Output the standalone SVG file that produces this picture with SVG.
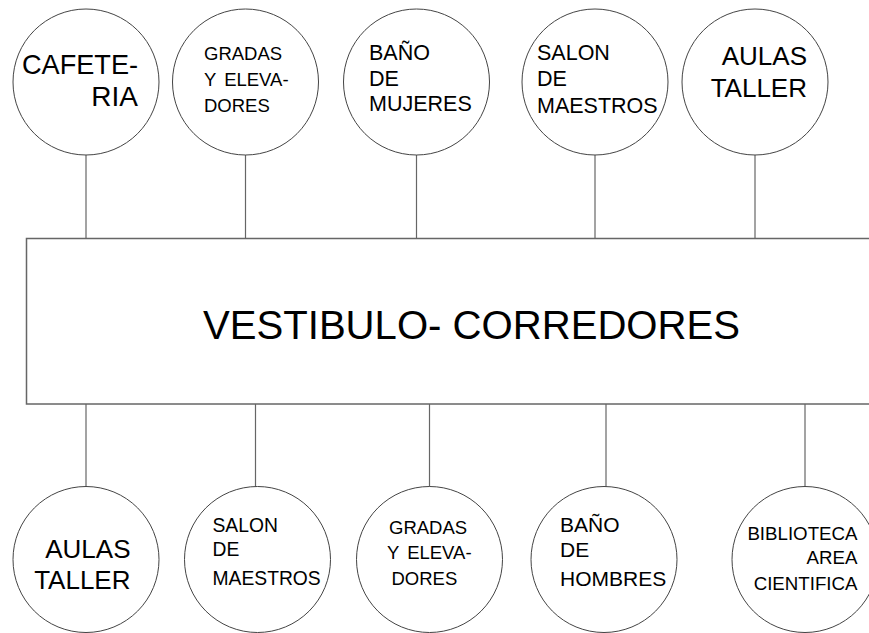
<svg xmlns="http://www.w3.org/2000/svg" width="869" height="633" viewBox="0 0 869 633">
<style>
.bg{fill:#ffffff}
.node circle{fill:#ffffff;stroke:#444444;stroke-width:1}
.hub rect{fill:#ffffff;stroke:#666666;stroke-width:1.5}
.conn line{stroke:#666666;stroke-width:1.2}
text{font-family:"Liberation Sans",Arial,sans-serif;fill:#000000}
.e{text-anchor:end}
</style>
<rect class="bg" x="0" y="0" width="869" height="633"/>
<g id="connectors" class="conn">
<line x1="86" y1="155" x2="86" y2="239"/>
<line x1="245.5" y1="155" x2="245.5" y2="239"/>
<line x1="416.5" y1="155" x2="416.5" y2="239"/>
<line x1="595" y1="155" x2="595" y2="239"/>
<line x1="755" y1="155" x2="755" y2="239"/>
<line x1="86" y1="404" x2="86" y2="487"/>
<line x1="255.5" y1="404" x2="255.5" y2="487"/>
<line x1="429.5" y1="404" x2="429.5" y2="487"/>
<line x1="606" y1="404" x2="606" y2="487"/>
<line x1="805" y1="404" x2="805" y2="487"/>
</g>
<g id="hub" class="hub">
<rect x="26.5" y="238.5" width="860" height="165.5"/>
<text x="203" y="338.5" font-size="41" textLength="537" lengthAdjust="spacingAndGlyphs">VESTIBULO- CORREDORES</text>
</g>
<g id="cafeteria" class="node">
<circle cx="86" cy="82" r="73"/>
<text class="e" x="138" y="74" font-size="28" textLength="116" lengthAdjust="spacingAndGlyphs">CAFETE-</text>
<text class="e" x="138" y="106" font-size="28">RIA</text>
</g>
<g id="gradas-top" class="node">
<circle cx="245.5" cy="82" r="73"/>
<text x="204" y="59.5" font-size="18.5">GRADAS</text>
<text x="204" y="85.5" font-size="18.5" word-spacing="3">Y ELEVA-</text>
<text x="204" y="111.5" font-size="18.5">DORES</text>
</g>
<g id="bano-mujeres" class="node">
<circle cx="416.5" cy="82" r="73"/>
<text x="369" y="60" font-size="21.5">BAÑO</text>
<text x="369" y="86" font-size="21.5">DE</text>
<text x="369" y="111" font-size="21.5">MUJERES</text>
</g>
<g id="salon-top" class="node">
<circle cx="595" cy="82" r="73"/>
<text x="537" y="60" font-size="21.5">SALON</text>
<text x="537" y="86" font-size="21.5">DE</text>
<text x="537" y="113" font-size="21.5">MAESTROS</text>
</g>
<g id="aulas-top" class="node">
<circle cx="755" cy="82" r="73"/>
<text class="e" x="807" y="65" font-size="26">AULAS</text>
<text class="e" x="807" y="96.5" font-size="26">TALLER</text>
</g>
<g id="aulas-bottom" class="node">
<circle cx="86" cy="559.5" r="73"/>
<text class="e" x="130.5" y="557.5" font-size="26">AULAS</text>
<text class="e" x="130.5" y="589" font-size="26">TALLER</text>
</g>
<g id="salon-bottom" class="node">
<circle cx="257.5" cy="559.5" r="73"/>
<text x="212.5" y="531.5" font-size="19.3">SALON</text>
<text x="212.5" y="555.5" font-size="19.3">DE</text>
<text x="212.5" y="584.5" font-size="19.3">MAESTROS</text>
</g>
<g id="gradas-bottom" class="node">
<circle cx="429.5" cy="559.5" r="73"/>
<text x="389" y="534" font-size="18.5">GRADAS</text>
<text x="387" y="558.5" font-size="18.5" word-spacing="3">Y ELEVA-</text>
<text x="391.5" y="585" font-size="18.5">DORES</text>
</g>
<g id="bano-hombres" class="node">
<circle cx="604" cy="559.5" r="73"/>
<text x="560" y="531.5" font-size="21">BAÑO</text>
<text x="560" y="556.5" font-size="21">DE</text>
<text x="560" y="586" font-size="21">HOMBRES</text>
</g>
<g id="biblioteca" class="node">
<circle cx="805" cy="559.5" r="73"/>
<text class="e" x="857.5" y="539.5" font-size="18.7">BIBLIOTECA</text>
<text class="e" x="857.5" y="563.5" font-size="18.7">AREA</text>
<text class="e" x="857.5" y="590" font-size="18.7">CIENTIFICA</text>
</g>
</svg>
